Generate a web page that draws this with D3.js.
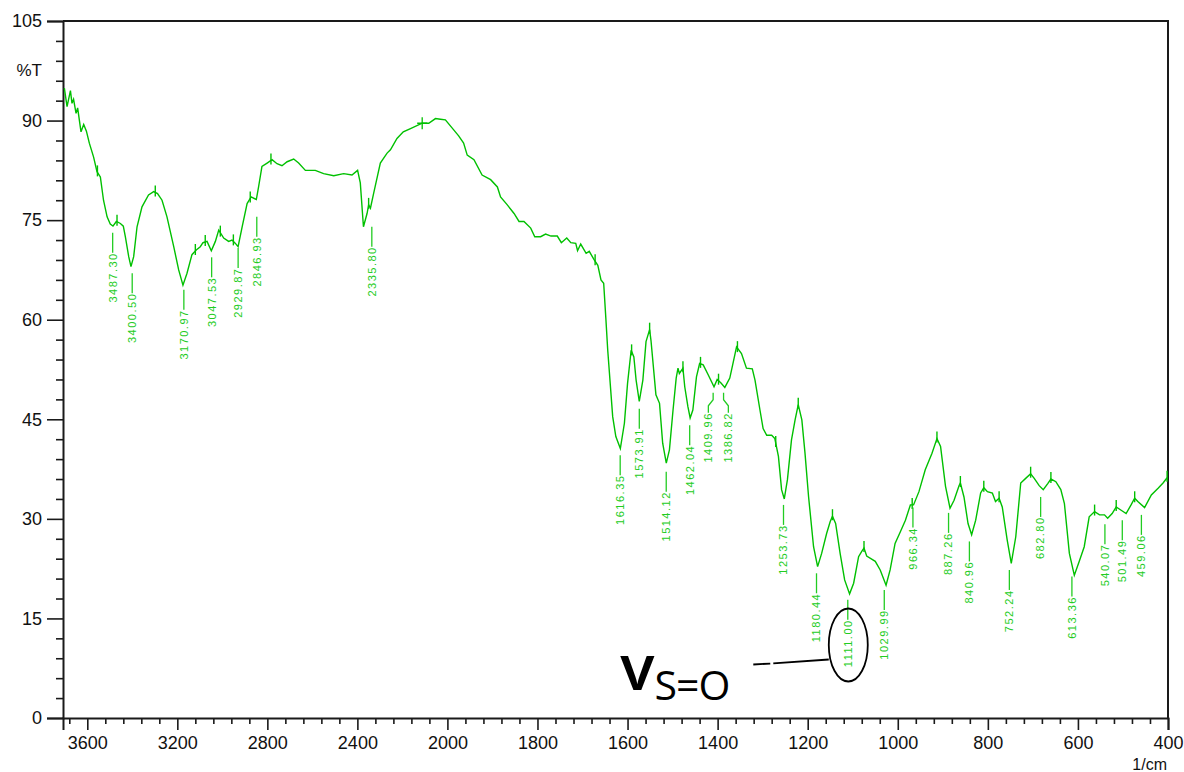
<!DOCTYPE html>
<html>
<head>
<meta charset="utf-8">
<script src="https://cdn.jsdelivr.net/npm/d3@7/dist/d3.min.js"></script>
<style>
body { margin: 0; background: #fff; }
</style>
</head>
<body>
<script>
// tick values
var xTicks = [3600, 3200, 2800, 2400, 2000, 1800, 1600, 1400, 1200, 1000, 800, 600, 400]
var yTicks = [0, 15, 30, 45, 60, 75, 90, 105]

// spectrum (1/cm, %T)
var waveNumbers = [
    3702, 3690, 3675, 3668, 3661, 3650, 3643, 3628, 3616, 3604, 3591, 3572, 3557, 3542, 3528, 3512,
    3498, 3486, 3471, 3453, 3440, 3431, 3416, 3406, 3394, 3379, 3357, 3328, 3305, 3288, 3268, 3246,
    3216, 3194, 3175, 3157, 3135, 3116, 3098, 3086, 3068, 3049, 3031, 3016, 2994, 2972, 2957, 2942,
    2930, 2912, 2890, 2872, 2849, 2839, 2824, 2801, 2779, 2757, 2735, 2712, 2683, 2661, 2631, 2587,
    2550, 2505, 2461, 2424, 2399, 2387, 2373, 2357, 2350, 2342, 2328, 2298, 2268, 2253, 2224, 2196,
    2164, 2112, 2083, 2053, 2031, 2009, 1986, 1975, 1964, 1956, 1941, 1923, 1904, 1889, 1882, 1867,
    1852, 1841, 1830, 1815, 1806, 1793, 1782, 1770, 1756, 1747, 1735, 1726, 1715, 1711, 1704, 1692,
    1685, 1674, 1666, 1659, 1653, 1648, 1644, 1633, 1626, 1616, 1607, 1600, 1592, 1586, 1581, 1574,
    1566, 1559, 1551, 1548, 1537, 1529, 1522, 1514, 1507, 1499, 1492, 1488, 1485, 1477, 1473, 1466,
    1461, 1455, 1447, 1440, 1432, 1421, 1408, 1401, 1393, 1384, 1373, 1366, 1358, 1347, 1336, 1323,
    1317, 1306, 1299, 1291, 1280, 1273, 1265, 1258, 1252, 1245, 1236, 1228, 1221, 1213, 1206, 1198,
    1187, 1178, 1169, 1158, 1150, 1145, 1138, 1128, 1118, 1107, 1098, 1087, 1080, 1075, 1069, 1050,
    1039, 1026, 1017, 1006, 994, 983, 972, 965, 953, 939, 924, 913, 905, 894, 884, 875,
    864, 861, 853, 844, 836, 827, 816, 809, 801, 790, 783, 775, 768, 757, 748, 738,
    727, 716, 705, 697, 686, 677, 667, 660, 649, 638, 630, 619, 608, 597, 586, 575,
    563, 552, 541, 534, 524, 515, 504, 493, 482, 474, 467, 452, 437, 422, 411, 402
]
var transmittance = [
    94.9, 92.1, 94.5, 92.6, 93.2, 91.1, 91.9, 88.3, 89.4, 88.4, 86.6, 84.5, 82.3, 81.5, 78.0, 75.5,
    74.4, 74.1, 74.8, 74.5, 74.1, 72.5, 69.5, 68.0, 69.5, 74.0, 77.0, 78.8, 79.3, 79.0, 78.0, 75.5,
    71.0, 67.5, 65.2, 67.0, 69.8, 70.5, 71.0, 71.6, 71.8, 70.4, 71.8, 73.5, 72.3, 71.8, 72.0, 71.5,
    71.0, 74.0, 77.5, 78.5, 78.1, 80.0, 83.1, 83.6, 84.1, 83.5, 83.2, 83.8, 84.2, 83.6, 82.5, 82.5,
    82.0, 81.7, 82.0, 81.8, 82.5, 80.6, 74.0, 76.0, 77.3, 76.8, 79.0, 83.6, 85.1, 85.6, 87.3, 88.3,
    88.8, 89.6, 89.6, 90.3, 90.2, 90.1, 88.6, 87.7, 86.6, 84.8, 84.1, 81.8, 81.1, 80.0, 78.5, 77.3,
    76.0, 74.8, 74.8, 73.8, 72.5, 72.5, 72.9, 72.6, 72.6, 71.6, 72.3, 71.6, 71.5, 70.4, 71.4, 70.0,
    70.3, 69.0, 68.2, 66.0, 65.5, 60.0, 55.4, 45.4, 42.4, 40.6, 44.4, 50.4, 55.4, 54.4, 50.9, 47.7,
    50.9, 56.7, 58.5, 56.9, 48.7, 47.4, 41.4, 38.4, 40.4, 46.4, 51.2, 52.7, 51.9, 52.7, 49.9, 46.9,
    45.2, 46.4, 51.4, 53.4, 53.2, 51.7, 49.9, 51.0, 50.5, 49.8, 51.2, 53.4, 55.9, 54.9, 52.7, 52.6,
    50.9, 46.4, 43.6, 42.6, 42.6, 42.1, 39.4, 34.4, 33.0, 35.9, 41.9, 44.9, 47.2, 44.9, 39.9, 33.3,
    25.8, 22.8, 24.8, 27.8, 29.6, 30.4, 29.3, 24.8, 20.8, 18.7, 20.3, 24.3, 25.1, 25.6, 24.4, 23.6,
    22.3, 20.0, 22.3, 26.3, 28.1, 29.8, 32.1, 32.1, 34.1, 37.4, 39.9, 42.1, 40.9, 34.9, 31.6, 32.8,
    35.0, 35.4, 33.3, 29.3, 27.6, 29.8, 33.9, 34.7, 34.1, 33.9, 32.6, 33.1, 31.8, 26.8, 23.3, 27.3,
    35.4, 36.1, 36.8, 36.1, 35.0, 34.4, 35.3, 36.0, 35.6, 34.4, 32.3, 24.8, 21.5, 23.6, 25.8, 30.3,
    31.1, 30.6, 30.6, 30.1, 30.8, 31.8, 31.3, 30.8, 32.1, 33.1, 32.6, 31.7, 33.6, 34.6, 35.4, 36.2
]

// peak table
var peakNames = ["3487.30", "3400.50", "3170.97", "3047.53", "2929.87", "2846.93", "2335.80",
    "1616.35", "1573.91", "1514.12", "1462.04", "1409.96", "1386.82", "1253.73", "1180.44",
    "1111.00", "1029.99", "966.34", "887.26", "840.96", "752.24", "682.80", "613.36",
    "540.07", "501.49", "459.06"]
var peakT = [73.1, 67.0, 64.5, 69.4, 70.8, 75.5, 74.0,
    39.6, 46.6, 37.1, 44.1, 49.0, 49.0, 32.1, 21.8,
    17.8, 19.3, 31.7, 30.9, 26.6, 22.3, 33.3, 21.3,
    29.2, 29.8, 30.6]

// little peak marks on the trace
var markWn = [3555, 3468, 3298, 3120, 3076, 3009, 2951, 2876, 2784, 2350, 1672, 1591, 1551, 1477,
    1438, 1398, 1356, 1271, 1221, 1145, 1075, 968, 913, 861, 809, 775, 705, 660, 563, 515, 474, 402]
var crossWn = [2112]

var annotatedPeak = "1111.00"

var width = 1184, height = 772
var svg = d3.select("body").append("svg")
    .attr("width", width)
    .attr("height", height)
    .style("font-family", "'Liberation Sans', Arial, sans-serif")

var x = d3.scaleLinear().domain([3708, 2000, 400]).range([63, 447.4, 1168])
var y = d3.scaleLinear().domain([0, 105]).range([718, 21])

var spectrum = waveNumbers.map(function(w, i) { return [w, transmittance[i]] })

function tAt(w) {
    for (var i = 0; i < spectrum.length - 1; i++) {
        var a = spectrum[i], b = spectrum[i + 1]
        if (w <= a[0] && w >= b[0]) {
            return a[1] + (b[1] - a[1]) * (a[0] - w) / (a[0] - b[0])
        }
    }
    return spectrum[spectrum.length - 1][1]
}

// minor ticks
var xMinor = d3.range(3680, 2000, -80).concat(d3.range(1960, 400, -40))
    .filter(function(d) { return xTicks.indexOf(d) < 0 })
var yMinor = d3.range(0, 105, 3).filter(function(d) { return d % 15 != 0 })

var axisColor = "#1a1a1a"

var gx = svg.append("g").attr("transform", "translate(0,718)")
gx.call(d3.axisBottom(x).tickValues(xTicks).tickSize(12).tickPadding(6).tickFormat(d3.format("d")))
gx.append("g").call(d3.axisBottom(x).tickValues(xMinor).tickSize(6).tickFormat(""))
    .select(".domain").remove()

var gy = svg.append("g").attr("transform", "translate(63,0)")
gy.call(d3.axisLeft(y).tickValues(yTicks).tickSize(16).tickPadding(5))
gy.append("g").call(d3.axisLeft(y).tickValues(yMinor).tickSize(7).tickFormat(""))
    .select(".domain").remove()

svg.selectAll(".domain").attr("stroke", axisColor).attr("stroke-width", 2)
svg.selectAll(".tick line").attr("stroke", axisColor).attr("stroke-width", 1.6)
svg.selectAll(".tick text").attr("fill", "#111").style("font-size", "18px")
    .style("font-family", "'Liberation Sans', Arial, sans-serif")

// frame top + right
svg.append("path")
    .attr("d", "M" + x(3708) + "," + y(105) + "H" + x(400) + "V" + y(0))
    .attr("fill", "none").attr("stroke", axisColor).attr("stroke-width", 2)

svg.append("text").attr("x", 42).attr("y", 76).attr("text-anchor", "end")
    .style("font-size", "17px").attr("fill", "#111").text("%T")
svg.append("text").attr("x", 1167).attr("y", 770).attr("text-anchor", "end")
    .style("font-size", "16px").attr("fill", "#111").text("1/cm")

var green = "#00c000"
var labelGreen = "#22cc22"

var line = d3.line()
    .x(function(d) { return x(d[0]) })
    .y(function(d) { return y(d[1]) })

svg.append("path")
    .datum(spectrum)
    .attr("fill", "none")
    .attr("stroke", green)
    .attr("stroke-width", 1.4)
    .attr("d", line)

// peak marks
svg.append("g").selectAll("line").data(markWn).enter().append("line")
    .attr("x1", function(d) { return x(d) })
    .attr("x2", function(d) { return x(d) })
    .attr("y1", function(d) { return y(tAt(d)) - 7 })
    .attr("y2", function(d) { return y(tAt(d)) + 4 })
    .attr("stroke", green).attr("stroke-width", 1.4)

crossWn.forEach(function(w) {
    var cx = x(w), cy = y(tAt(w))
    svg.append("path")
        .attr("d", "M" + cx + "," + (cy - 6) + "V" + (cy + 6) + "M" + (cx - 5) + "," + cy + "H" + (cx + 5))
        .attr("stroke", green).attr("stroke-width", 1.3)
})

// peak labels
var peaks = peakNames.map(function(n, i) {
    return { name: n, wn: +n, t: peakT[i], px: x(+n), shift: 0 }
})
for (var i = 0; i < peaks.length - 1; i++) {
    var d = peaks[i + 1].px - peaks[i].px
    if (d < 12) {
        peaks[i].shift = -(20 - d) / 2
        peaks[i + 1].shift = (20 - d) / 2
    }
}

var labels = svg.append("g").attr("class", "labels")
peaks.forEach(function(p) {
    var top = y(p.t), px = p.px, s = p.shift
    var path = s == 0
        ? "M" + px + "," + top + "V" + (top + 20)
        : "M" + px + "," + top + "V" + (top + 7) + "L" + (px + s) + "," + (top + 13) + "V" + (top + 20)
    labels.append("path").attr("d", path)
        .attr("fill", "none").attr("stroke", labelGreen).attr("stroke-width", 1.3)
    labels.append("text")
        .attr("transform", "translate(" + (px + s) + "," + (top + 19.5) + ") rotate(-90)")
        .attr("text-anchor", "end")
        .attr("dy", "0.35em")
        .style("font-size", "11px")
        .style("letter-spacing", "1.5px")
        .attr("fill", labelGreen)
        .text(p.name)
})

// nu S=O annotation
var ex = x(+annotatedPeak) + 0.5, ey = y(11)
svg.append("ellipse")
    .attr("cx", ex).attr("cy", ey).attr("rx", 19.5).attr("ry", 36.5)
    .attr("fill", "none").attr("stroke", "#000").attr("stroke-width", 1.8)
svg.append("path")
    .attr("d", "M" + (ex - 95) + "," + (ey + 19.5) + "L" + (ex - 78) + "," + (ey + 18.6)
        + "M" + (ex - 75) + "," + (ey + 18.4) + "L" + (ex - 19.5) + "," + (ey + 14.5))
    .attr("stroke", "#000").attr("stroke-width", 1.8)

var ann = svg.append("text")
    .attr("x", ex - 228).attr("y", ey + 45)
    .style("font-family", "'Open Sans', 'Noto Sans', sans-serif")
    .attr("fill", "#000")
ann.append("tspan").style("font-size", "64px").style("font-weight", "600").text("v")
ann.append("tspan").attr("dy", 10).style("font-size", "41px").style("letter-spacing", "-1px").text("S=O")
</script>
</body>
</html>
